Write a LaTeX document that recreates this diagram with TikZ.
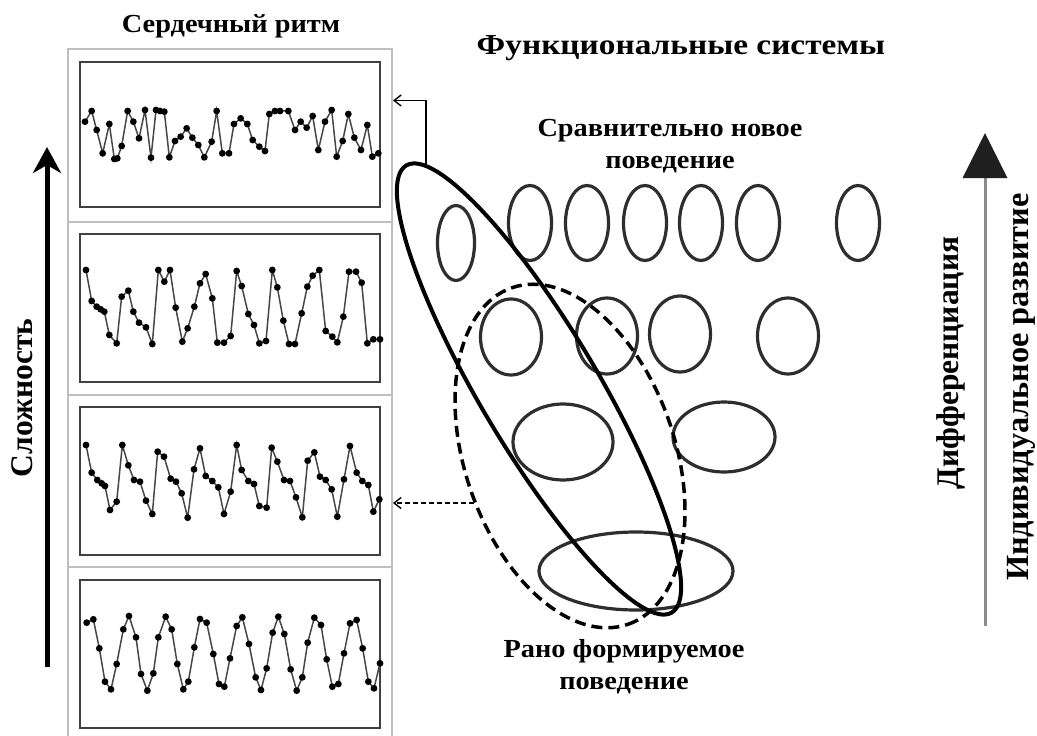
\documentclass[tikz,border=0pt]{standalone}
\usepackage{fontspec}
\usepackage{graphicx}
\setmainfont{Liberation Serif}
\usetikzlibrary{arrows.meta,shapes.geometric,calc}
\newcommand{\wide}[2]{\scalebox{#1}[1]{#2}}
\begin{document}
\begin{tikzpicture}[x=1pt,y=-1pt,
  frame/.style={draw=black!25, line width=2pt, minimum width=324pt, inner sep=0pt},
  plotbox/.style={draw=black!75, line width=2pt, minimum width=300pt, minimum height=148pt, inner sep=0pt},
  wave/.style={draw=black!72, line width=1.5pt, mark=*, mark size=2.6pt, mark options={fill=black,draw=black}},
  sys/.style={draw=black!82, line width=3.2pt, ellipse, inner sep=0pt},
  lbl/.style={font=\bfseries\fontsize{26}{32}\selectfont, align=center, inner sep=0pt},
  vlbl/.style={font=\bfseries\fontsize{31.5}{36}\selectfont, inner sep=0pt, rotate=90},
  link/.style={line width=1.4pt, -{Straight Barb[length=7pt,width=11pt]}},
]
\fill[white] (0,0) rectangle (1037,736);
\useasboundingbox (0,0) rectangle (1037,736);

% heart-rate panels
\node[frame, minimum height=173pt] (f1) at (230,135.5) {};
\node[frame, minimum height=173pt] (f2) at (230,308.5) {};
\node[frame, minimum height=172pt] (f3) at (230,481) {};
\node[frame, minimum height=174pt] (f4) at (230,654) {};
\node[plotbox, minimum height=145pt] (p1) at (229.5,134.5) {};
\node[plotbox] (p2) at (230,308) {};
\node[plotbox] (p3) at (230,481) {};
\node[plotbox] (p4) at (230,654) {};

\begin{scope}[shift={(60,40)}, x=0.33333pt, y=-0.33333pt]
\draw[wave] plot coordinates {(75,245) (95,213) (110,270) (128,340) (148,252) (163,357) (172,355) (185,318) (203,213) (220,245) (237,295) (255,210) (273,353) (288,210) (300,213) (313,215) (328,352) (345,303) (362,290) (380,265) (397,293) (415,315) (433,352) (455,305) (470,213) (487,340) (507,340) (522,252) (542,235) (562,252) (578,300) (598,320) (615,333) (628,222) (645,213) (660,213) (685,213) (705,270) (722,245) (740,263) (758,228) (775,330) (795,245) (815,210) (830,350) (848,303) (865,222) (883,293) (903,330) (922,255) (937,350) (955,340)};
\draw[wave] plot coordinates {(78,690) (95,783) (110,800) (122,808) (133,815) (148,885) (170,910) (185,770) (205,752) (220,815) (237,848) (258,862) (277,912) (295,690) (313,725) (330,690) (347,803) (367,905) (383,865) (403,800) (420,730) (437,702) (457,775) (472,908) (492,908) (512,888) (530,693) (545,738) (565,822) (582,855) (598,910) (618,903) (637,690) (652,742) (670,842) (687,912) (705,912) (725,820) (742,740) (758,707) (778,690) (797,873) (817,890) (832,907) (850,830) (867,695) (888,695) (905,728) (922,910) (940,898) (960,898)};
\end{scope}
\begin{scope}[shift={(60,380)}, x=0.33333pt, y=-0.33333pt]
\draw[wave] plot coordinates {(78,195) (95,278) (112,300) (125,310) (135,318) (150,390) (170,365) (187,195) (205,256) (222,300) (240,305) (258,362) (277,402) (293,215) (312,230) (332,296) (348,305) (365,340) (383,413) (402,268) (420,205) (437,288) (457,303) (475,322) (492,402) (512,335) (530,195) (545,270) (565,303) (582,312) (598,378) (620,383) (635,203) (652,245) (672,300) (690,303) (708,352) (727,412) (743,242) (763,217) (780,290) (797,300) (815,328) (832,410) (852,298) (870,198) (890,278) (907,303) (925,315) (940,395) (958,358)};
\draw[wave] plot coordinates {(80,728) (100,718) (118,805) (135,905) (153,928) (170,852) (190,748) (207,708) (228,772) (243,882) (262,932) (280,880) (295,772) (317,710) (335,748) (352,852) (370,928) (385,905) (403,802) (420,717) (440,728) (460,822) (477,912) (493,920) (510,835) (530,738) (547,712) (567,792) (587,892) (603,930) (620,865) (638,758) (655,710) (673,762) (692,868) (710,932) (727,892) (743,788) (763,713) (783,735) (800,838) (817,920) (835,912) (852,820) (870,730) (890,720) (908,805) (925,905) (942,925) (960,850)};
\end{scope}

% functional systems
\node[sys, minimum width=37pt, minimum height=75pt] (s1) at (456,243) {};
\foreach \n/\cx in {2/530,3/587,4/645,5/701,6/758,7/858}
  \node[sys, minimum width=43pt, minimum height=75pt] (s\n) at (\cx,223) {};
\foreach \n/\cx/\cy in {8/511/337,9/607/336,10/680/334,11/788/336}
  \node[sys, minimum width=61pt, minimum height=76pt] (s\n) at (\cx,\cy) {};
\node[sys, minimum width=100pt, minimum height=76pt] (s12) at (563,442) {};
\node[sys, minimum width=102pt, minimum height=70pt] (s13) at (724,437) {};
\node[sys, minimum width=194pt, minimum height=78pt] (s14) at (636,571) {};

\node[ellipse, draw=black, line width=3.5pt, dash pattern=on 11pt off 6pt, minimum width=356pt, minimum height=210pt, inner sep=0pt, rotate=-71] (dsh) at (570,456) {};
\node[ellipse, draw=black, line width=4pt, minimum width=520pt, minimum height=118pt, inner sep=0pt, rotate=-59.3] (big) at (539,389) {};

% connectors
\draw[link] (big.176) |- ($(f1.north east)!0.3!(f1.south east)$);
\draw[link, dash pattern=on 5pt off 3pt] (dsh.277) -- (dsh.277 -| f3.east);

% axes
\coordinate (cb) at (47,667);
\coordinate (ct) at (47,147);
\draw[line width=5pt, -{Stealth[length=26pt,width=28pt,inset=8pt]}] (cb) -- (ct);
\coordinate (rb) at (985,626);
\coordinate (rt) at (985,133);
\draw[draw=black!45, line width=3pt, -{Triangle[length=45pt,width=44pt,color=black!88]}] (rb) -- (rt);

% labels
\node[lbl] (t1) at (231,26) {\wide{1.09}{Сердечный ритм}};
\node[lbl, font=\bfseries\fontsize{29}{34}\selectfont] (t2) at (681,48) {\wide{1.15}{Функциональные системы}};
\node[lbl] (t3) at (670,146) {\wide{1.09}{Сравнительно новое}\\\wide{1.09}{поведение}};
\node[lbl] (t4) at (624,667) {\wide{1.09}{Рано формируемое}\\\wide{1.09}{поведение}};
\node[vlbl] (t5) at (22,398) {Сложность};
\node[vlbl] (t6) at (951,363) {Дифференциация};
\node[vlbl, font=\bfseries\fontsize{32.3}{36}\selectfont] (t7) at (1021,387) {Индивидуальное развитие};
\end{tikzpicture}
\end{document}
